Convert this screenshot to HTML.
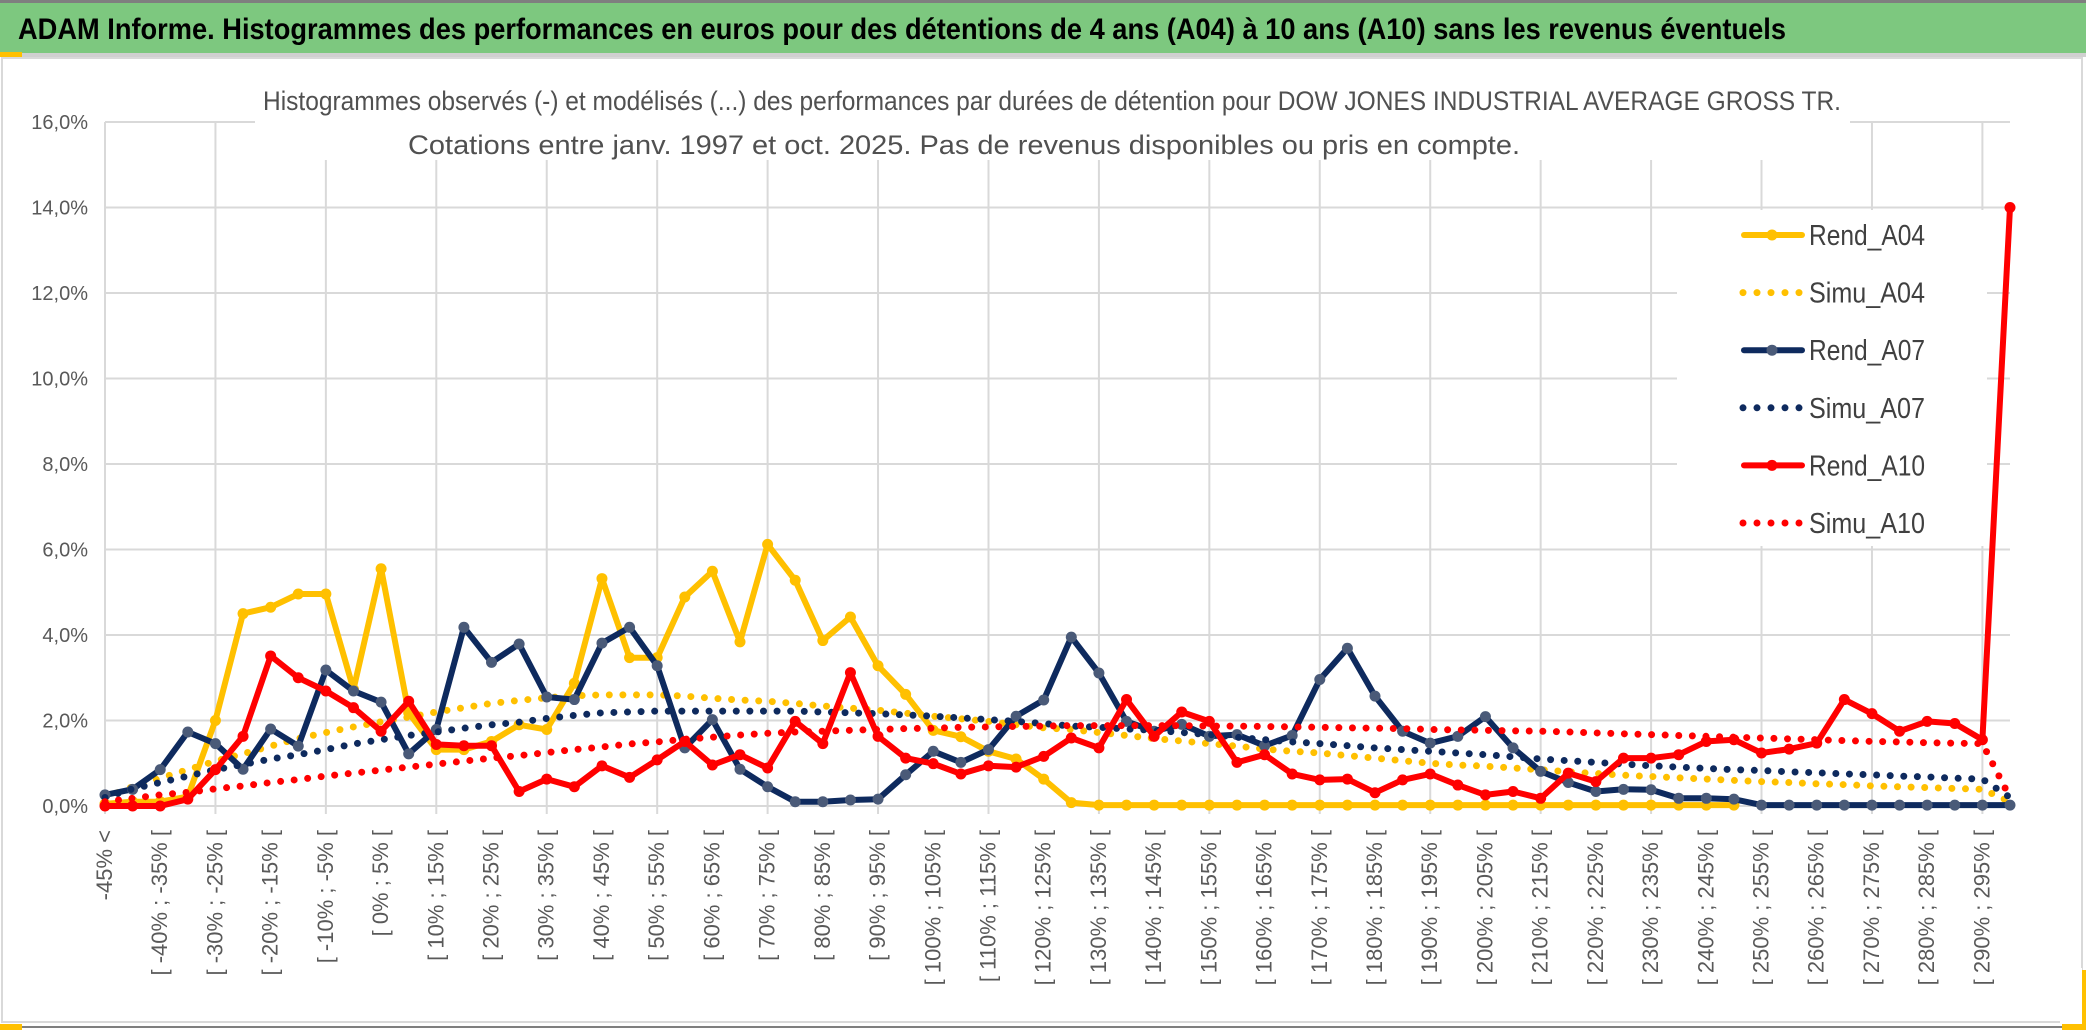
<!DOCTYPE html>
<html><head><meta charset="utf-8">
<style>
html,body{margin:0;padding:0;background:#fff;}
svg{display:block;font-family:"Liberation Sans",sans-serif;}
</style></head>
<body>
<svg id="chart" width="2086" height="1033" viewBox="0 0 2086 1033" xmlns="http://www.w3.org/2000/svg">
<rect x="0" y="0" width="2086" height="1033" fill="#fff"/>
<rect x="0" y="0" width="2086" height="3" fill="#7f7f7f"/>
<rect x="0" y="3" width="2086" height="50" fill="#7dc87f"/>
<rect x="0" y="53" width="2086" height="4" fill="#d0d0d0"/>
<rect x="0" y="52" width="22" height="5" fill="#ffc000"/>
<text x="18" y="39" font-size="30" font-weight="bold" fill="#000" textLength="1768" lengthAdjust="spacingAndGlyphs">ADAM Informe. Histogrammes des performances en euros pour des détentions de 4 ans (A04) à 10 ans (A10) sans les revenus éventuels</text>
<rect x="2" y="58" width="2080" height="964" fill="none" stroke="#d9d9d9" stroke-width="2"/>
<rect x="0" y="1026" width="2086" height="2" fill="#7f7f7f"/>
<rect x="0" y="1024" width="22" height="6" fill="#ffc000"/>
<rect x="2062" y="970" width="24" height="60" fill="#ffc000"/>
<rect x="2060" y="968" width="22" height="56" fill="#fff"/>
<g id="grid"></g>
<rect x="255" y="72" width="1595" height="88" fill="#fff"/>
<text x="1052" y="110" font-size="27" fill="#505050" text-anchor="middle" textLength="1578" lengthAdjust="spacingAndGlyphs">Histogrammes observés (-) et modélisés (...) des performances par durées de détention pour DOW JONES INDUSTRIAL AVERAGE GROSS TR.</text>
<text x="964" y="154" font-size="27" fill="#505050" text-anchor="middle" textLength="1112" lengthAdjust="spacingAndGlyphs">Cotations entre janv. 1997 et oct. 2025. Pas de revenus disponibles ou pris en compte.</text>
<g id="yaxis"></g>
<g id="xaxis"></g>
<rect x="1677" y="210" width="310" height="336" fill="#fff"/>
<g id="series"></g>
<g id="legend"></g>
</svg>
<script>
const rendA04 = [0.05,0.1,0.1,0.22,2.0,4.5,4.65,4.96,4.96,2.73,5.55,2.18,1.32,1.32,1.51,1.9,1.79,2.87,5.32,3.47,3.47,4.89,5.49,3.84,6.12,5.28,3.87,4.42,3.28,2.61,1.77,1.62,1.28,1.1,0.63,0.08,0.02,0.02,0.02,0.02,0.02,0.02,0.02,0.02,0.02,0.02,0.02,0.02,0.02,0.02,0.02,0.02,0.02,0.02,0.02,0.02,0.02,0.02,0.02,0.02,null,null,null,null,null,null,null,null,null,null];
const simuA04 = [0.2,0.45,0.65,0.85,1.05,1.22,1.4,1.58,1.72,1.85,1.97,2.08,2.2,2.3,2.4,2.47,2.53,2.58,2.6,2.6,2.6,2.57,2.52,2.48,2.45,2.4,2.34,2.29,2.24,2.17,2.1,2.04,1.98,1.9,1.83,1.79,1.72,1.65,1.58,1.52,1.46,1.4,1.33,1.28,1.24,1.18,1.12,1.06,1.0,0.96,0.93,0.89,0.85,0.8,0.76,0.72,0.69,0.66,0.63,0.6,0.57,0.55,0.52,0.5,0.47,0.45,0.43,0.41,0.39,0.1];
const rendA07 = [0.26,0.39,0.85,1.73,1.46,0.86,1.8,1.4,3.18,2.69,2.43,1.22,1.79,4.18,3.36,3.79,2.55,2.49,3.81,4.18,3.28,1.36,2.02,0.86,0.45,0.1,0.1,0.14,0.16,0.73,1.28,1.02,1.32,2.1,2.48,3.95,3.11,1.98,1.75,1.91,1.63,1.67,1.41,1.65,2.96,3.69,2.57,1.75,1.47,1.63,2.09,1.36,0.81,0.55,0.34,0.39,0.38,0.18,0.18,0.16,0.02,0.02,0.02,0.02,0.02,0.02,0.02,0.02,0.02,0.02];
const simuA07 = [0.2,0.4,0.55,0.7,0.85,0.97,1.1,1.2,1.32,1.45,1.55,1.65,1.73,1.82,1.9,1.96,2.05,2.12,2.18,2.2,2.22,2.22,2.22,2.22,2.22,2.22,2.2,2.18,2.16,2.13,2.1,2.06,2.02,1.98,1.93,1.87,1.84,1.8,1.77,1.72,1.67,1.61,1.55,1.5,1.46,1.41,1.36,1.32,1.28,1.24,1.2,1.15,1.1,1.06,1.02,0.98,0.94,0.91,0.88,0.85,0.83,0.8,0.78,0.75,0.73,0.7,0.68,0.65,0.63,0.2];
const rendA10 = [0,0,0,0.16,0.85,1.63,3.51,3.0,2.69,2.3,1.75,2.45,1.44,1.41,1.41,0.34,0.63,0.45,0.94,0.67,1.08,1.51,0.96,1.2,0.89,1.98,1.46,3.12,1.63,1.12,0.99,0.75,0.94,0.91,1.16,1.59,1.36,2.49,1.63,2.2,1.98,1.02,1.2,0.75,0.61,0.63,0.31,0.61,0.75,0.49,0.26,0.34,0.18,0.77,0.57,1.12,1.12,1.2,1.51,1.55,1.24,1.33,1.47,2.49,2.16,1.75,1.98,1.93,1.55,14.0];
const simuA10 = [0.1,0.18,0.26,0.32,0.4,0.47,0.55,0.62,0.7,0.77,0.84,0.91,0.98,1.05,1.12,1.18,1.25,1.32,1.38,1.45,1.5,1.56,1.61,1.66,1.7,1.73,1.75,1.77,1.79,1.81,1.82,1.84,1.85,1.86,1.87,1.88,1.88,1.88,1.88,1.88,1.87,1.87,1.86,1.85,1.84,1.83,1.82,1.81,1.79,1.78,1.77,1.76,1.75,1.73,1.71,1.69,1.67,1.65,1.63,1.61,1.59,1.57,1.55,1.53,1.51,1.5,1.48,1.47,1.46,0.2];
const yTicks = [0,2,4,6,8,10,12,14,16];
const yTickLabels = ["0,0%","2,0%","4,0%","6,0%","8,0%","10,0%","12,0%","14,0%","16,0%"];
const categories = ["-45% <"];
for (let k = 1; k < 70; k++) { const lo = -50 + 5*k; categories.push("[ " + lo + "% ; " + (lo+5) + "% ["); }

const NS = "http://www.w3.org/2000/svg";
const X0 = 105, X1 = 2010, Y0 = 806, Y1 = 122, YMAX = 16;
const xPos = i => X0 + (X1 - X0) * i / (categories.length - 1);
const yPos = v => Y0 - (Y0 - Y1) * v / YMAX;
function mk(tag, attrs, parent) { const e = document.createElementNS(NS, tag); for (const k in attrs) e.setAttribute(k, attrs[k]); parent.appendChild(e); return e; }

const grid = document.getElementById('grid');
yTicks.forEach(v => {
  const l = mk('line', {x1:X0, x2:X1, y1:yPos(v), y2:yPos(v), stroke:'#d9d9d9', 'stroke-width':2}, grid);
  
  
});
for (let i = 0; i < categories.length; i += 4) {
  const l = mk('line', {x1:xPos(i), x2:xPos(i), y1:Y1, y2:Y0 + 8, stroke:'#d9d9d9', 'stroke-width':2}, grid);
  
  
}
const yax = document.getElementById('yaxis');
yTicks.forEach((v, i) => {
  const t = mk('text', {x:88, y:yPos(v) + 7, 'font-size':20, fill:'#595959', 'text-anchor':'end'}, yax);
  t.textContent = yTickLabels[i];
  
  
});
const xax = document.getElementById('xaxis');
categories.forEach((c, i) => {
  if (i % 2 !== 0 || i > 68) return;
  const x = xPos(i) + 7, y = 830;
  const t = mk('text', {x:x, y:y, 'font-size':22, fill:'#595959', 'text-anchor':'end', transform:'rotate(-90 ' + x + ' ' + y + ')'}, xax);
  t.textContent = c;
  
  
});

const ser = document.getElementById('series');
function pathOf(arr) {
  let d = '', pen = false;
  arr.forEach((v, i) => { if (v === null) { pen = false; return; } d += (pen ? 'L' : 'M') + xPos(i).toFixed(1) + ' ' + yPos(v).toFixed(1) + ' '; pen = true; });
  return d;
}
function solid(arr, color, markerFill, name) {
  const g = mk('g', {}, ser);
  
  
  const p = mk('path', {d:pathOf(arr), fill:'none', stroke:color, 'stroke-width':6, 'stroke-linejoin':'round', 'stroke-linecap':'round'}, g);
  
  
  arr.forEach((v, i) => {
    if (v === null) return;
    const c = mk('circle', {cx:xPos(i), cy:yPos(v), r:5.5, fill:markerFill}, g);
    
    
  });
}
function dotted(arr, color, name) {
  const p = mk('path', {d:pathOf(arr), fill:'none', stroke:color, 'stroke-width':7, 'stroke-linecap':'round', 'stroke-dasharray':'0 13.6'}, ser);
  
  
}
solid(rendA04, '#ffc000', '#ffc000', 'rend-a04');
dotted(simuA04, '#ffc000', 'simu-a04');
solid(rendA07, '#0e2a5e', '#4a5a78', 'rend-a07');
dotted(simuA07, '#0e2a5e', 'simu-a07');
solid(rendA10, '#ff0000', '#ff0000', 'rend-a10');
dotted(simuA10, '#ff0000', 'simu-a10');

const leg = document.getElementById('legend');
const legendItems = [["Rend_A04",'#ffc000','#ffc000',false],["Simu_A04",'#ffc000',null,true],["Rend_A07",'#0e2a5e','#4a5a78',false],["Simu_A07",'#0e2a5e',null,true],["Rend_A10",'#ff0000','#ff0000',false],["Simu_A10",'#ff0000',null,true]];
legendItems.forEach((it, i) => {
  const y = 235 + i * 57.6;
  const g = mk('g', {}, leg);
  
  
  if (it[3]) {
    mk('line', {x1:1743, x2:1800, y1:y, y2:y, stroke:it[1], 'stroke-width':7, 'stroke-linecap':'round', 'stroke-dasharray':'0 14'}, g);
  } else {
    mk('line', {x1:1744, x2:1802, y1:y, y2:y, stroke:it[1], 'stroke-width':6, 'stroke-linecap':'round'}, g);
    mk('circle', {cx:1772, cy:y, r:5.5, fill:it[2]}, g);
  }
  const t = mk('text', {x:1809, y:y + 10, 'font-size':29, fill:'#404040', textLength:116, lengthAdjust:'spacingAndGlyphs'}, g);
  t.textContent = it[0];
});
</script>
</body></html>
